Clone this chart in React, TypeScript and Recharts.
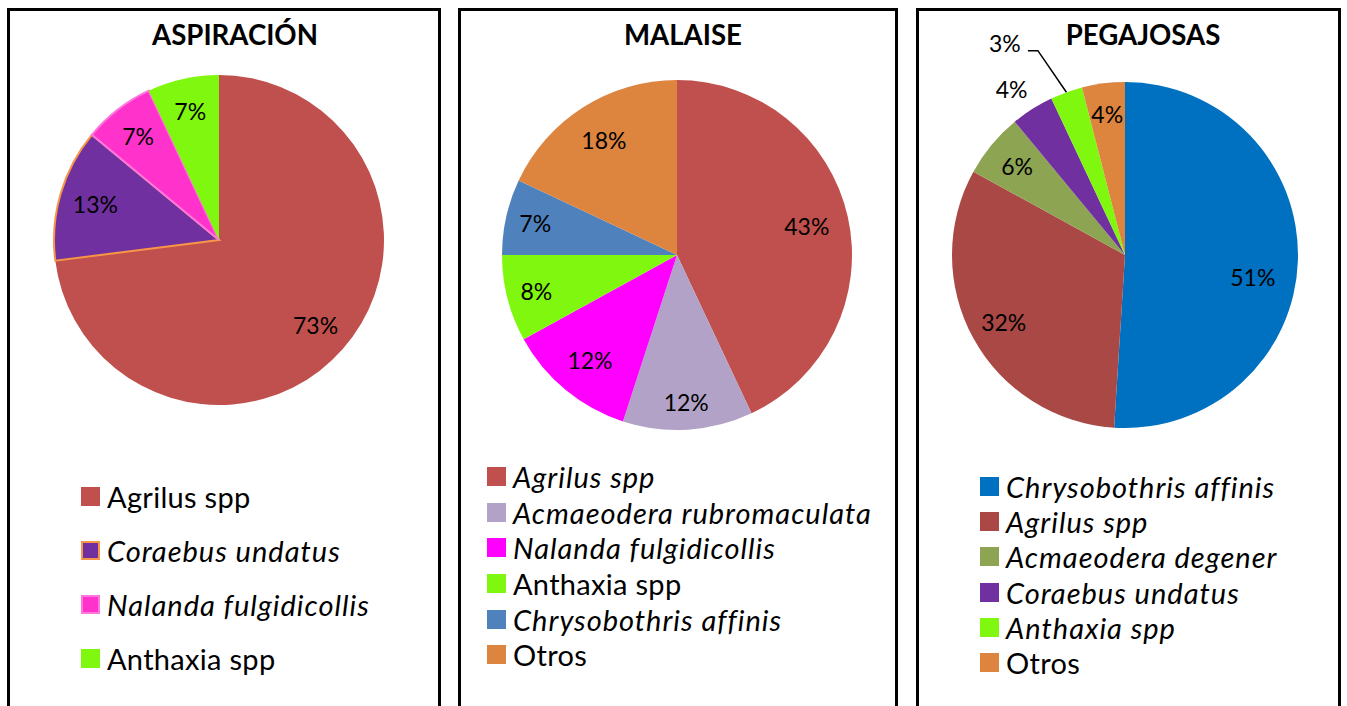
import React from "react";
import { PieChart, Pie, Cell, Legend } from "recharts";

// ---- data ----
const aspNames = ["Agrilus spp", "Coraebus undatus", "Nalanda fulgidicollis", "Anthaxia spp"];
const aspValues = [73, 13, 7, 7];

const malNames = [
  "Agrilus spp",
  "Acmaeodera rubromaculata",
  "Nalanda fulgidicollis",
  "Anthaxia spp",
  "Chrysobothris affinis",
  "Otros",
];
const malValues = [43, 12, 12, 8, 7, 18];

const pegNames = [
  "Chrysobothris affinis",
  "Agrilus spp",
  "Acmaeodera degener",
  "Coraebus undatus",
  "Anthaxia spp",
  "Otros",
];
const pegValues = [51, 32, 6, 4, 3, 4];

// ---- styling ----
const FONT = "Lato, 'Open Sans', sans-serif";

const aspColors = ["#C0504D", "#7030A0", "#FF33CC", "#80F70E"];
const aspStrokes = ["none", "#F79646", "#FF77DD", "none"];
const aspItalic = [false, true, true, false];

const malColors = ["#C0504D", "#B2A2C7", "#FF00FF", "#80F70E", "#4F81BD", "#DD843F"];
const malItalic = [true, true, true, false, true, false];

const pegColors = ["#0070C0", "#A94845", "#8DA553", "#7030A0", "#80F70E", "#DD843F"];
const pegItalic = [true, true, true, true, true, false];

// label placement: [radius factor, clockwise angle shift in degrees]
const aspLabelPos = [[0.78, 0], [0.78, 0], [0.8, 0], [0.8, 0]];
const malLabelPos = [[0.76, 0], [0.84, 0], [0.78, 0], [0.83, 0], [0.83, 0], [0.78, 0]];
const pegLabelPos = [[0.75, 8], [0.8, 0], [0.81, 0], [1.16, -2], [1.41, -9.7], [0.82, 0]];

const RAD = Math.PI / 180;

function makeLabel(pos: number[][], leaderIndex = -1) {
  return (props: any) => {
    const { cx, cy, midAngle, outerRadius, value, index } = props;
    const [f, da] = pos[index];
    const a = (midAngle - da) * RAD;
    const x = cx + outerRadius * f * Math.cos(-a);
    const y = cy + outerRadius * f * Math.sin(-a);
    const text = (
      <text
        x={x}
        y={y}
        textAnchor="middle"
        dominantBaseline="central"
        fill="#000"
        fontSize={23}
        fontFamily={FONT}
      >
        {`${value}%`}
      </text>
    );
    if (index !== leaderIndex) return text;
    const ex = cx + outerRadius * Math.cos(-midAngle * RAD);
    const ey = cy + outerRadius * Math.sin(-midAngle * RAD);
    return (
      <g>
        {text}
        <polyline
          points={`${ex},${ey} ${x + 33},${y + 8} ${x + 23},${y + 8}`}
          fill="none"
          stroke="#000"
          strokeWidth={1.5}
        />
      </g>
    );
  };
}

function makeLegend(
  names: string[],
  colors: string[],
  italic: boolean[],
  rowH: number,
  strokes?: string[]
) {
  return () => (
    <div>
      {names.map((n, i) => (
        <div key={n} style={{ display: "flex", alignItems: "center", height: rowH }}>
          <span
            style={{
              display: "inline-block",
              width: 19,
              height: 19,
              boxSizing: "border-box",
              background: colors[i],
              border: strokes && strokes[i] !== "none" ? `2px solid ${strokes[i]}` : "none",
              marginRight: 7,
              flexShrink: 0,
            }}
          />
          <span
            style={{
              fontFamily: FONT,
              fontSize: 29,
              fontStyle: italic[i] ? "italic" : "normal",
              letterSpacing: italic[i] ? 1 : 0.3,
              color: "#000",
              whiteSpace: "nowrap",
              lineHeight: 1,
            }}
          >
            {n}
          </span>
        </div>
      ))}
    </div>
  );
}

interface PanelProps {
  left: number;
  width: number;
  title: string;
  titleX: number;
  names: string[];
  values: number[];
  colors: string[];
  strokes?: string[];
  italic: boolean[];
  cx: number;
  cy: number;
  r: number;
  labelPos: number[][];
  leaderIndex?: number;
  legendLeft: number;
  legendTop: number;
  rowH: number;
}

function Panel(p: PanelProps) {
  const data = p.names.map((n, i) => ({ name: n, value: p.values[i] }));
  const w = p.width - 6;
  return (
    <div
      style={{
        position: "absolute",
        left: p.left,
        top: 8,
        width: p.width,
        height: 730,
        border: "3px solid #000",
        boxSizing: "border-box",
        background: "#fff",
      }}
    >
      <svg width={w} height={60} style={{ position: "absolute", left: 0, top: 0 }}>
        <text
          x={p.titleX}
          y={34}
          textAnchor="middle"
          fontFamily={FONT}
          fontWeight="bold"
          fontSize={27.6}
          fill="#000"
        >
          {p.title}
        </text>
      </svg>
      <div style={{ position: "absolute", left: 0, top: 0 }}>
        <PieChart width={w} height={700} margin={{ top: 0, right: 0, bottom: 0, left: 0 }}>
          <Pie
            data={data}
            dataKey="value"
            nameKey="name"
            cx={p.cx}
            cy={p.cy}
            outerRadius={p.r}
            startAngle={90}
            endAngle={-270}
            isAnimationActive={false}
            labelLine={false}
            label={makeLabel(p.labelPos, p.leaderIndex)}
          >
            {data.map((d, i) => (
              <Cell
                key={d.name}
                fill={p.colors[i]}
                stroke={p.strokes ? p.strokes[i] : "none"}
                strokeWidth={p.strokes && p.strokes[i] !== "none" ? 2 : 0}
              />
            ))}
          </Pie>
          <Legend
            layout="vertical"
            align="center"
            verticalAlign="bottom"
            wrapperStyle={{ left: p.legendLeft, top: p.legendTop, bottom: "auto", width: "auto" }}
            content={makeLegend(p.names, p.colors, p.italic, p.rowH, p.strokes)}
          />
        </PieChart>
      </div>
    </div>
  );
}

export default function App() {
  return (
    <div
      style={{
        position: "fixed",
        left: 0,
        top: 0,
        width: 1347,
        height: 706,
        overflow: "hidden",
        background: "#fff",
      }}
    >
      <Panel
        left={7}
        width={434}
        title="ASPIRACIÓN"
        titleX={225}
        names={aspNames}
        values={aspValues}
        colors={aspColors}
        strokes={aspStrokes}
        italic={aspItalic}
        cx={209}
        cy={229}
        r={165}
        labelPos={aspLabelPos}
        legendLeft={71}
        legendTop={458}
        rowH={54}
      />
      <Panel
        left={458}
        width={440}
        title="MALAISE"
        titleX={222}
        names={malNames}
        values={malValues}
        colors={malColors}
        italic={malItalic}
        cx={216}
        cy={244}
        r={175}
        labelPos={malLabelPos}
        legendLeft={26}
        legendTop={448}
        rowH={35.6}
      />
      <Panel
        left={916}
        width={425}
        title="PEGAJOSAS"
        titleX={224}
        names={pegNames}
        values={pegValues}
        colors={pegColors}
        italic={pegItalic}
        cx={206}
        cy={244}
        r={173}
        labelPos={pegLabelPos}
        leaderIndex={4}
        legendLeft={61}
        legendTop={458}
        rowH={35.2}
      />
    </div>
  );
}
